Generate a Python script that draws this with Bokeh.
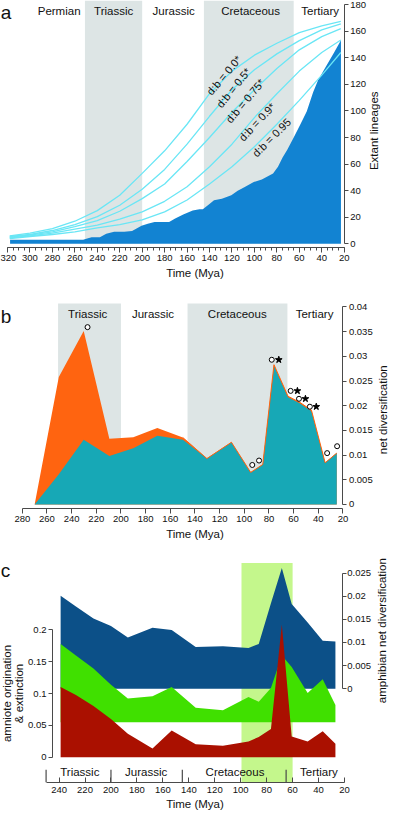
from bokeh.plotting import figure
from bokeh.layouts import column
from bokeh.models import Range1d, LinearAxis, FixedTicker, Label, CustomJSTickFormatter
from bokeh.core.properties import value
from bokeh.embed import file_html
from bokeh.resources import INLINE

FONT = "Liberation Sans"

# ---------------- panel a data ----------------
lineage_mya = [317.7, 252.6, 249, 245, 237.7, 232, 225, 216, 209, 200.6, 195, 189, 176, 170.6, 163.4,
               155, 149, 146, 140.6, 136, 129, 120.6, 114.9, 109, 100.6, 93.4, 83.4, 79, 74.9, 70.6,
               65, 59, 53.4, 47.7, 43.4, 37.7, 33.4, 29, 23.4, 22.9]
lineage_count = [3, 3, 4, 5, 5, 7.6, 9, 9, 9.6, 13.5, 15, 16.5, 16.5, 19, 22,
                 25, 26, 26, 29.5, 32.7, 34, 36.6, 40, 42.5, 46.5, 48.4, 53, 58, 65, 71,
                 80, 90, 99.6, 114, 123, 131.5, 137.7, 144, 152.5, 153]
curve_mya = [318, 300, 280, 260, 240, 220, 200, 180, 160, 140, 120, 100, 80, 60, 40, 23]
db_00 = [6, 8, 11.5, 17, 25, 36.5, 53, 70, 90, 113, 130, 142, 151, 159, 164, 167.4]
db_05 = [5.5, 7, 10, 14.5, 20.5, 29, 41, 56, 75, 96, 116, 131, 143, 153, 161, 165.5]
db_075 = [5, 6.5, 9, 13, 17.5, 24.5, 34, 45, 62, 80, 99, 116, 132, 146, 156, 162]
db_09 = [4.5, 6, 8, 11, 14, 18.5, 24, 32, 43, 58, 75, 95, 113, 130, 144, 153.4]
db_095 = [4, 5.5, 7, 9, 12, 14.5, 18, 24, 33, 45, 58, 73, 90, 108, 127, 144]
db_names = ["d:b = 0.0*", "d:b = 0.5*", "d:b = 0.75*", "d:b = 0.9*", "d:b = 0.95"]
db_label_mya = [127.1, 118.6, 108.3, 97.7, 84.8]
db_label_val = [126.8, 117.5, 107.6, 91.8, 80.0]
db_label_angle = [50, 51, 50, 47, 45]
era_a_names = ["Permian", "Triassic", "Jurassic", "Cretaceous", "Tertiary"]
era_a_mid = [274, 225.4, 172, 103.4, 41.4]
shade_a_start = [251, 145]
shade_a_end = [200, 65]
a_xticks = [320, 300, 280, 260, 240, 220, 200, 180, 160, 140, 120, 100, 80, 60, 40, 20]
a_xminor = list(range(20, 321, 5))
a_yticks = [0, 20, 40, 60, 80, 100, 120, 140, 160, 180]

# ---------------- panel b data ----------------
b_mya = [270, 250.4, 230.2, 209.4, 190, 170.5, 149.8, 130.3, 110.4, 94.8, 85, 75.9, 64.5, 55.1, 45.5, 34.4, 25.0]
b_total = [0, 0.0258, 0.0351, 0.0133, 0.0136, 0.0155, 0.01355, 0.0093, 0.0126, 0.0065, 0.0081,
           0.0283, 0.0219, 0.0207, 0.0191, 0.00845, 0.0104]
b_teal = [0, 0.0061, 0.0131, 0.0098, 0.0114, 0.0139, 0.0131, 0.0093, 0.0126, 0.0065, 0.0081,
          0.0281, 0.0217, 0.0205, 0.0189, 0.00845, 0.0104]
circle_mya = [227.1, 77.7, 62.4, 55.6, 46.8, 93.5, 88.0, 32.8, 24.7]
circle_val = [0.0359, 0.0293, 0.0230, 0.0214, 0.0198, 0.0080, 0.0089, 0.0104, 0.0118]
star_mya = [72.0, 56.9, 50.4, 41.6]
star_val = [0.0293, 0.0230, 0.0214, 0.0198]
era_b_names = ["Triassic", "Jurassic", "Cretaceous", "Tertiary"]
era_b_mid = [227, 174, 105.7, 43]
shade_b_start = [251, 146]
shade_b_end = [200, 65]
b_xticks = [280, 260, 240, 220, 200, 180, 160, 140, 120, 100, 80, 60, 40, 20]
b_yticks = [0, 0.005, 0.01, 0.015, 0.02, 0.025, 0.03, 0.035, 0.04]

# ---------------- panel c data ----------------
c_mya = [238.8, 227, 213.5, 200, 187, 168, 153.2, 134.7, 113.7, 94, 86.1, 76.7, 68.3, 60.7, 48.4, 36.8, 27]
c_amphibian = [0.0201, 0.0178, 0.0152, 0.01356, 0.0111, 0.0132, 0.0127, 0.0090, 0.0092, 0.0088,
               0.0097, 0.0185, 0.0261, 0.0183, 0.0143, 0.0104, 0.0102]
c_origination = [0.178, 0.160, 0.1395, 0.1138, 0.0923, 0.0959, 0.1103, 0.078, 0.0738, 0.0949,
                 0.0872, 0.1087, 0.160, 0.142, 0.101, 0.1226, 0.082]
c_extinction = [0.1103, 0.098, 0.0805, 0.060, 0.0369, 0.0138, 0.042, 0.0205, 0.018, 0.025,
                0.0318, 0.0446, 0.2087, 0.0328, 0.025, 0.041, 0.0215]
c_orig_base = 0.0549
era_c_names = ["Triassic", "Jurassic", "Cretaceous", "Tertiary"]
era_c_mid = [224, 172.9, 104.4, 39.7]
era_c_bounds = [250, 200, 145, 65]
kt_start = [99.4]
kt_end = [60]
c_xticks = [240, 220, 200, 180, 160, 140, 120, 100, 80, 60, 40, 20]
c_left_ticks = [0, 0.05, 0.1, 0.15, 0.2]
c_right_ticks = [0, 0.005, 0.01, 0.015, 0.02, 0.025]

# ---------------- styles ----------------
GREY = "#dde5e5"
BLUE_A = "#1283d2"
CYAN = "#6ae6f5"
ORANGE = "#ff6410"
TEAL = "#17a8b6"
BLUE_C = "#0c5088"
GREEN = "#40e000"
RED = "#aa1000"
KT = "#c4f78c"
AX = "#4a4a4a"
TXT = "#111111"
W = 389


def fmt():
    return CustomJSTickFormatter(code="return String(parseFloat(tick.toFixed(4)));")


def style_axis(ax, tick_out=4, tick_in=0):
    ax.axis_line_color = AX
    ax.major_tick_line_color = AX
    ax.minor_tick_line_color = AX
    ax.major_tick_out = tick_out
    ax.major_tick_in = tick_in
    ax.minor_tick_out = 0
    ax.minor_tick_in = 0
    ax.major_label_text_font = FONT
    ax.major_label_text_font_size = "9.5px"
    ax.major_label_text_color = TXT
    ax.axis_label_text_font = FONT
    ax.axis_label_text_font_size = "11.5px"
    ax.axis_label_text_font_style = "normal"
    ax.axis_label_text_color = TXT
    ax.major_label_standoff = 2
    ax.axis_label_standoff = 3


def base_fig(h, xr, yr, top, bottom, **kw):
    p = figure(width=W, height=h, x_range=xr, y_range=yr, output_backend="svg",
               toolbar_location=None, min_border_left=0, min_border_right=0,
               min_border_top=top, min_border_bottom=bottom, **kw)
    p.xgrid.visible = False
    p.ygrid.visible = False
    p.outline_line_color = None
    p.background_fill_color = "white"
    p.border_fill_color = "white"
    return p


def panel_letter(p, x, y, t):
    p.add_layout(Label(x=x, y=y, text=t, text_font=FONT, text_font_size="19px",
                       text_color=TXT, text_align="left", text_baseline="alphabetic"))


def side_title(p, x, y, t, **kw):
    p.text(x=[x], y=[y], text=[t], angle=90, angle_units="deg", text_font=value(FONT),
           text_font_size="11.5px", text_align="center", text_baseline="middle",
           text_color=TXT, **kw)


# ================= panel a =================
pa = base_fig(286, Range1d(326.24, -20.36), Range1d(-2.79, 183.17), 0, 39, y_axis_location="right")
for s, e in zip(shade_a_start, shade_a_end):
    pa.varea(x=[s, e], y1=[0, 0], y2=[183.17, 183.17], fill_color=GREY)
pa.varea(x=lineage_mya, y1=[0] * len(lineage_mya), y2=lineage_count, fill_color=BLUE_A)
for vals in [db_00, db_05, db_075, db_09, db_095]:
    pa.line(curve_mya, vals, line_color=CYAN, line_width=1.3)
pa.text(x=era_a_mid, y=[175.0] * len(era_a_mid), text=era_a_names, text_font=value(FONT),
        text_font_size="11.5px", text_align="center", text_baseline="middle", text_color=TXT)
pa.text(x=db_label_mya, y=db_label_val, text=db_names, angle=db_label_angle, angle_units="deg",
        text_font=value(FONT), text_font_size="11px", text_align="center",
        text_baseline="middle", text_color=TXT)
xa = pa.xaxis[0]
style_axis(xa, tick_out=5)
xa.minor_tick_out = 3
xa.ticker = FixedTicker(ticks=a_xticks, minor_ticks=a_xminor)
xa.bounds = (20, 320)
xa.axis_label = "Time (Mya)"
ya = pa.yaxis[0]
style_axis(ya, tick_out=4)
ya.ticker = FixedTicker(ticks=a_yticks)
ya.bounds = (0, 180)
ya.fixed_location = 20
side_title(pa, -6.5, 85.1, "Extant lineages")
panel_letter(pa, 326.0, 174.3, "a")

# ================= panel b =================
pb = base_fig(260, Range1d(297.68, -17.78), Range1d(-0.00081, 0.04413), 0, 38, y_axis_location="right")
for s, e in zip(shade_b_start, shade_b_end):
    pb.varea(x=[s, e], y1=[0, 0], y2=[0.04067, 0.04067], fill_color=GREY)
pb.varea(x=b_mya, y1=[0] * len(b_mya), y2=b_total, fill_color=ORANGE)
pb.varea(x=b_mya, y1=[0] * len(b_mya), y2=b_teal, fill_color=TEAL)
pb.line(b_mya[6:], b_total[6:], line_color=ORANGE, line_width=1)
pb.scatter(circle_mya, circle_val, marker="circle", size=5, fill_color="white",
           line_color="black", line_width=1)
pb.scatter(star_mya, star_val, marker="star", size=7, fill_color="black", line_color="black")
pb.text(x=era_b_mid, y=[0.03854] * len(era_b_mid), text=era_b_names, text_font=value(FONT),
        text_font_size="11.5px", text_align="center", text_baseline="middle", text_color=TXT)
xb = pb.xaxis[0]
style_axis(xb, tick_out=5)
xb.ticker = FixedTicker(ticks=b_xticks)
xb.bounds = (20, 280)
xb.axis_label = "Time (Mya)"
yb = pb.yaxis[0]
style_axis(yb, tick_out=4)
yb.ticker = FixedTicker(ticks=b_yticks)
yb.formatter = fmt()
yb.bounds = (0, 0.04)
yb.fixed_location = 20
side_title(pb, -12.6, 0.01919, "net diversification")
panel_letter(pb, 297.5, 0.03796, "b")

# ================= panel c =================
pc = base_fig(269, Range1d(285.14, -14.68), Range1d(-0.0395, 0.3310), 0, 33)
pc.extra_y_ranges = {"amph": Range1d(-0.02028, 0.03076)}
for s, e in zip(kt_start, kt_end):
    pc.varea(x=[s, e], y1=[-0.0395, -0.0395], y2=[0.3051, 0.3051], fill_color=KT)
pc.varea(x=c_mya, y1=[0] * len(c_mya), y2=c_amphibian, fill_color=BLUE_C, y_range_name="amph")
pc.varea(x=c_mya, y1=[c_orig_base] * len(c_mya), y2=c_origination, fill_color=GREEN)
pc.varea(x=c_mya, y1=[0] * len(c_mya), y2=c_extinction, fill_color=RED)
pc.segment(x0=era_c_bounds, y0=[-0.0395] * 4, x1=era_c_bounds, y1=[-0.0195] * 4,
           line_color=AX, line_width=1.2)
pc.text(x=era_c_mid, y=[-0.0231] * len(era_c_mid), text=era_c_names, text_font=value(FONT),
        text_font_size="11.5px", text_align="center", text_baseline="middle", text_color=TXT)
xc = pc.xaxis[0]
style_axis(xc, tick_out=0, tick_in=5)
xc.ticker = FixedTicker(ticks=c_xticks)
xc.bounds = (20, 250)
xc.axis_label = "Time (Mya)"
xc.major_label_standoff = 4
xc.axis_label_standoff = 2
yc = pc.yaxis[0]
style_axis(yc, tick_out=4)
yc.ticker = FixedTicker(ticks=c_left_ticks)
yc.formatter = fmt()
yc.bounds = (0, 0.2)
yc.fixed_location = 245
yc.axis_label = "amniote origination\n& extinction"
yc.axis_label_text_line_height = 1.0
yc.major_label_standoff = 2
yc.axis_label_standoff = 0
yr = LinearAxis(y_range_name="amph")
style_axis(yr, tick_out=4)
yr.ticker = FixedTicker(ticks=c_right_ticks)
yr.formatter = fmt()
yr.bounds = (0, 0.025)
yr.fixed_location = 21.7
yr.major_label_standoff = 1
pc.add_layout(yr, "right")
side_title(pc, -8.98, 0.1989, "amphibian net diversification")
panel_letter(pc, 285.0, 0.2927, "c")

layout = column(pa, pb, pc, spacing=0)
open("out.html", "w").write(file_html(layout, INLINE))
